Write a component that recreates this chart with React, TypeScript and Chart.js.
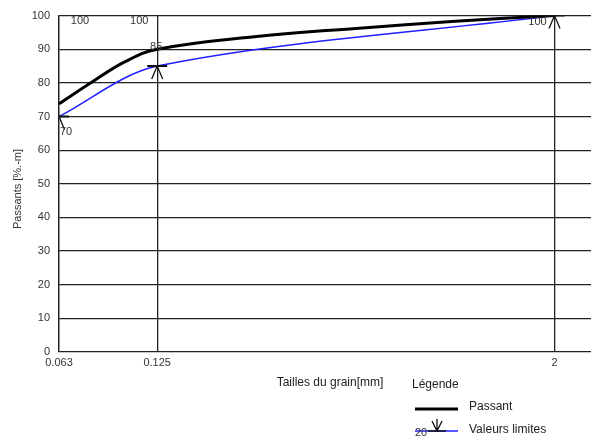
import React, { useEffect, useRef } from "react";
import { Chart, registerables } from "chart.js";

Chart.register(...registerables);

// Grain sizes (mm) and passing percentages
const passantSizes = [0.063, 0.08, 0.1, 0.125, 0.25, 0.5, 1, 2];
const passantValues = [73.8, 80.5, 86.3, 90, 93.8, 96.2, 98.3, 100];

// Limit values
const limitSizes = [0.063, 0.125, 2];
const limitMin = [70, 85, 100];
const limitMax = [100, 100, null];

const xTickValues = [0.063, 0.125, 2];
const xTickLabels = ["0.063", "0.125", "2"];

const FONT = "'Liberation Sans', Arial, sans-serif";

const annotPlugin = {
  id: "annot",
  afterDatasetsDraw(chart: any) {
    const ctx = chart.ctx;
    const xs = chart.scales.x;
    const ys = chart.scales.y;
    const a = chart.chartArea;
    ctx.save();
    // arrows and bars at limit points (clipped)
    ctx.save();
    ctx.beginPath();
    ctx.rect(a.left, a.top, a.right - a.left, a.bottom - a.top);
    ctx.clip();
    ctx.strokeStyle = "#111";
    for (let i = 0; i < limitSizes.length; i++) {
      const px = xs.getPixelForValue(limitSizes[i]);
      const py = ys.getPixelForValue(limitMin[i]);
      ctx.lineWidth = 1.3;
      ctx.beginPath();
      ctx.moveTo(px - 5.5, py + 13);
      ctx.lineTo(px, py);
      ctx.lineTo(px + 5.5, py + 13);
      ctx.stroke();
      ctx.lineWidth = 2;
      ctx.beginPath();
      ctx.moveTo(px - 10, py);
      ctx.lineTo(px + 10, py);
      ctx.stroke();
    }
    ctx.restore();

    // value labels
    ctx.font = `11px ${FONT}`;
    ctx.fillStyle = "#333";
    ctx.textAlign = "center";
    ctx.textBaseline = "middle";
    const minOff = [[7, 15.5], [-1, -19], [-17, 6]];
    for (let i = 0; i < limitSizes.length; i++) {
      const px = xs.getPixelForValue(limitSizes[i]);
      const py = ys.getPixelForValue(limitMin[i]);
      ctx.fillText(String(limitMin[i]), px + minOff[i][0], py + minOff[i][1]);
    }
    const maxOff = [[21, 5], [-18, 5], [0, 0]];
    for (let i = 0; i < limitSizes.length; i++) {
      const v = limitMax[i];
      if (v == null) continue;
      const px = xs.getPixelForValue(limitSizes[i]);
      const py = ys.getPixelForValue(v);
      ctx.fillText(String(v), px + maxOff[i][0], py + maxOff[i][1]);
    }

    // x axis title
    ctx.font = `12px ${FONT}`;
    ctx.fillStyle = "#222";
    ctx.fillText("Tailles du grain[mm]", 330, a.bottom + 31);

    // y axis title
    ctx.save();
    ctx.translate(18, 189);
    ctx.rotate(-Math.PI / 2);
    ctx.font = `11px ${FONT}`;
    ctx.fillStyle = "#333";
    ctx.fillText("Passants [%.-m]", 0, 0);
    ctx.restore();

    // legend
    ctx.textAlign = "left";
    ctx.fillText("Légende", 412, 385);
    ctx.strokeStyle = "#000";
    ctx.lineWidth = 3;
    ctx.beginPath();
    ctx.moveTo(415, 409);
    ctx.lineTo(458, 409);
    ctx.stroke();
    ctx.fillText("Passant", 469, 407);
    ctx.strokeStyle = "#1f1fff";
    ctx.lineWidth = 1.5;
    ctx.beginPath();
    ctx.moveTo(415, 431);
    ctx.lineTo(458, 431);
    ctx.stroke();
    ctx.fillStyle = "#333";
    ctx.font = `11px ${FONT}`;
    ctx.fillText("20", 415, 433);
    ctx.strokeStyle = "#111";
    ctx.lineWidth = 1.3;
    ctx.beginPath();
    ctx.moveTo(432, 421);
    ctx.lineTo(437, 431);
    ctx.lineTo(442, 421);
    ctx.moveTo(437, 419);
    ctx.lineTo(437, 431);
    ctx.stroke();
    ctx.lineWidth = 1.5;
    ctx.beginPath();
    ctx.moveTo(428, 431);
    ctx.lineTo(446, 431);
    ctx.stroke();
    ctx.fillStyle = "#222";
    ctx.font = `12px ${FONT}`;
    ctx.fillText("Valeurs limites", 469, 430);
    ctx.restore();
  },
};

export default function App() {
  const ref = useRef<HTMLCanvasElement>(null);
  useEffect(() => {
    if (!ref.current) return;
    const chart = new Chart(ref.current, {
      type: "line",
      data: {
        datasets: [
          {
            label: "Passant",
            data: passantSizes.map((s, i) => ({ x: s, y: passantValues[i] })),
            borderColor: "#000",
            borderWidth: 3,
            pointRadius: 0,
            tension: 0.4,
            fill: false,
          },
          {
            label: "Valeurs limites",
            data: limitSizes.map((s, i) => ({ x: s, y: limitMin[i] })),
            borderColor: "#1f1fff",
            borderWidth: 1.5,
            pointRadius: 0,
            tension: 0.32,
            fill: false,
          },
        ],
      },
      options: {
        animation: false,
        responsive: false,
        layout: { padding: { top: 14, right: 0, bottom: 0, left: 0 } },
        plugins: { legend: { display: false }, tooltip: { enabled: false } },
        scales: {
          x: {
            type: "logarithmic",
            min: 0.063,
            max: 2.58,
            afterBuildTicks: (s: any) => {
              s.ticks = xTickValues.map((v) => ({ value: v }));
            },
            afterFit: (s: any) => {
              s.height = 90;
            },
            ticks: {
              autoSkip: false,
              maxRotation: 0,
              padding: 4,
              color: "#333",
              font: { family: FONT, size: 11 },
              callback: (v: any) => {
                const i = xTickValues.indexOf(Number(v));
                return i >= 0 ? xTickLabels[i] : "";
              },
            },
            grid: { color: "#222", lineWidth: 1.3, drawTicks: false },
            border: { display: false },
          },
          y: {
            type: "linear",
            min: 0,
            max: 100,
            afterFit: (s: any) => {
              s.width = 59;
            },
            ticks: {
              stepSize: 10,
              padding: 9,
              color: "#333",
              font: { family: FONT, size: 11 },
            },
            grid: { color: "#222", lineWidth: 1.3, drawTicks: false },
            border: { display: true, color: "#222", width: 1.3 },
          },
        },
      },
      plugins: [annotPlugin],
    } as any);
    return () => chart.destroy();
  }, []);
  return (
    <div style={{ position: "absolute", left: 0, top: 0, width: 591, height: 442, background: "#fff" }}>
      <canvas ref={ref} width={591} height={442} style={{ display: "block" }} />
    </div>
  );
}
